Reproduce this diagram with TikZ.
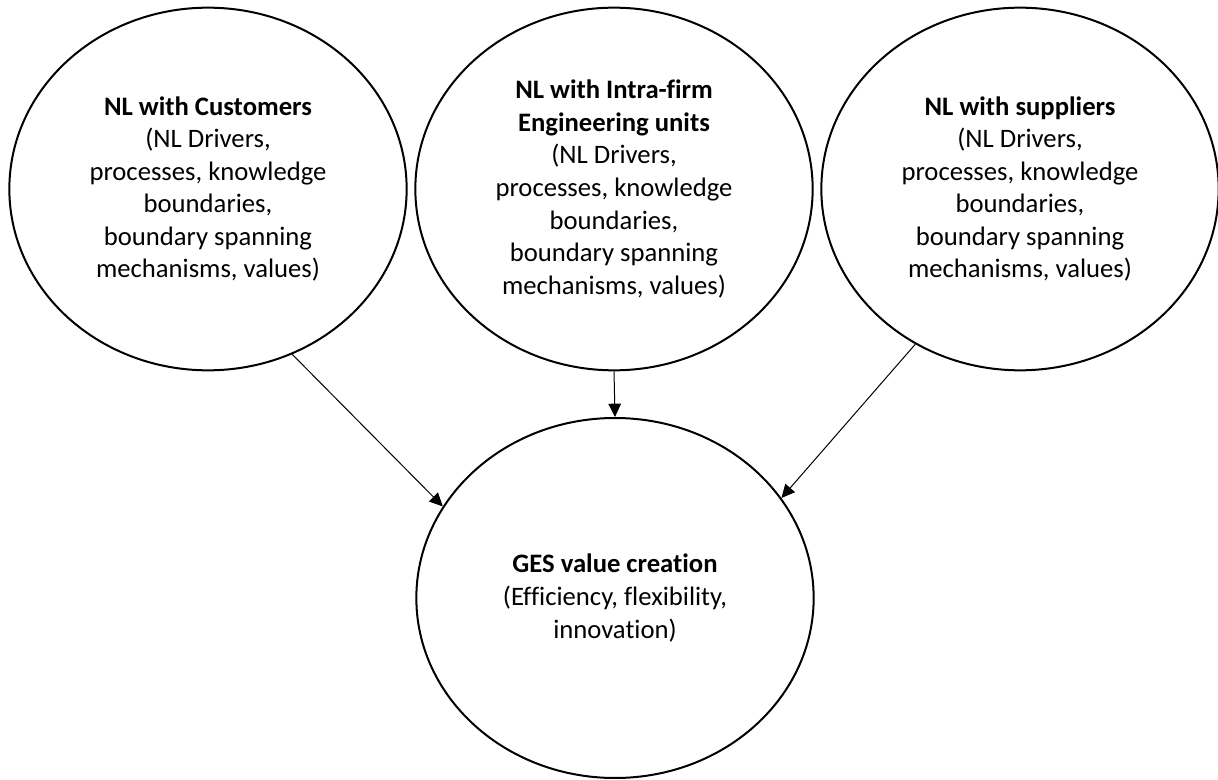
\documentclass[tikz,border=0pt]{standalone}
\usepackage{fontspec}
\setmainfont{Carlito}[Ligatures=NoCommon]
\usetikzlibrary{shapes.geometric,arrows.meta}
\begin{document}
\begin{tikzpicture}[x=0.75pt,y=-0.75pt,
  bubble/.style={draw=black,line width=1.5pt,ellipse,inner sep=0pt,
    minimum width=298pt,minimum height=272pt,align=center,
    font=\fontsize{20}{24.4}\selectfont},
  link/.style={draw=black,line width=0.75pt,-{Triangle[length=10pt,width=9.5pt]}}]
\useasboundingbox (0,0) rectangle (1218,780);

\node[bubble] (cust) at (208,189) {\textbf{NL with Customers}\\(NL Drivers,\\processes, knowledge\\boundaries,\\boundary spanning\\mechanisms, values)};
\node[bubble] (intra) at (614,189) {\textbf{NL with Intra-firm}\\\textbf{Engineering units}\\(NL Drivers,\\processes, knowledge\\boundaries,\\boundary spanning\\mechanisms, values)};
\node[bubble] (supp) at (1020,189) {\textbf{NL with suppliers}\\(NL Drivers,\\processes, knowledge\\boundaries,\\boundary spanning\\mechanisms, values)};
\node[bubble,minimum height=270pt] (ges) at (615,598) {\textbf{GES value creation}\\(Efficiency, flexibility,\\innovation)};

\draw[link] (cust.-63) -- (ges.152.8);
\draw[link] (intra.south) -- (ges.north);
\draw[link] (supp.-124) -- (ges.31.6);
\end{tikzpicture}
\end{document}
